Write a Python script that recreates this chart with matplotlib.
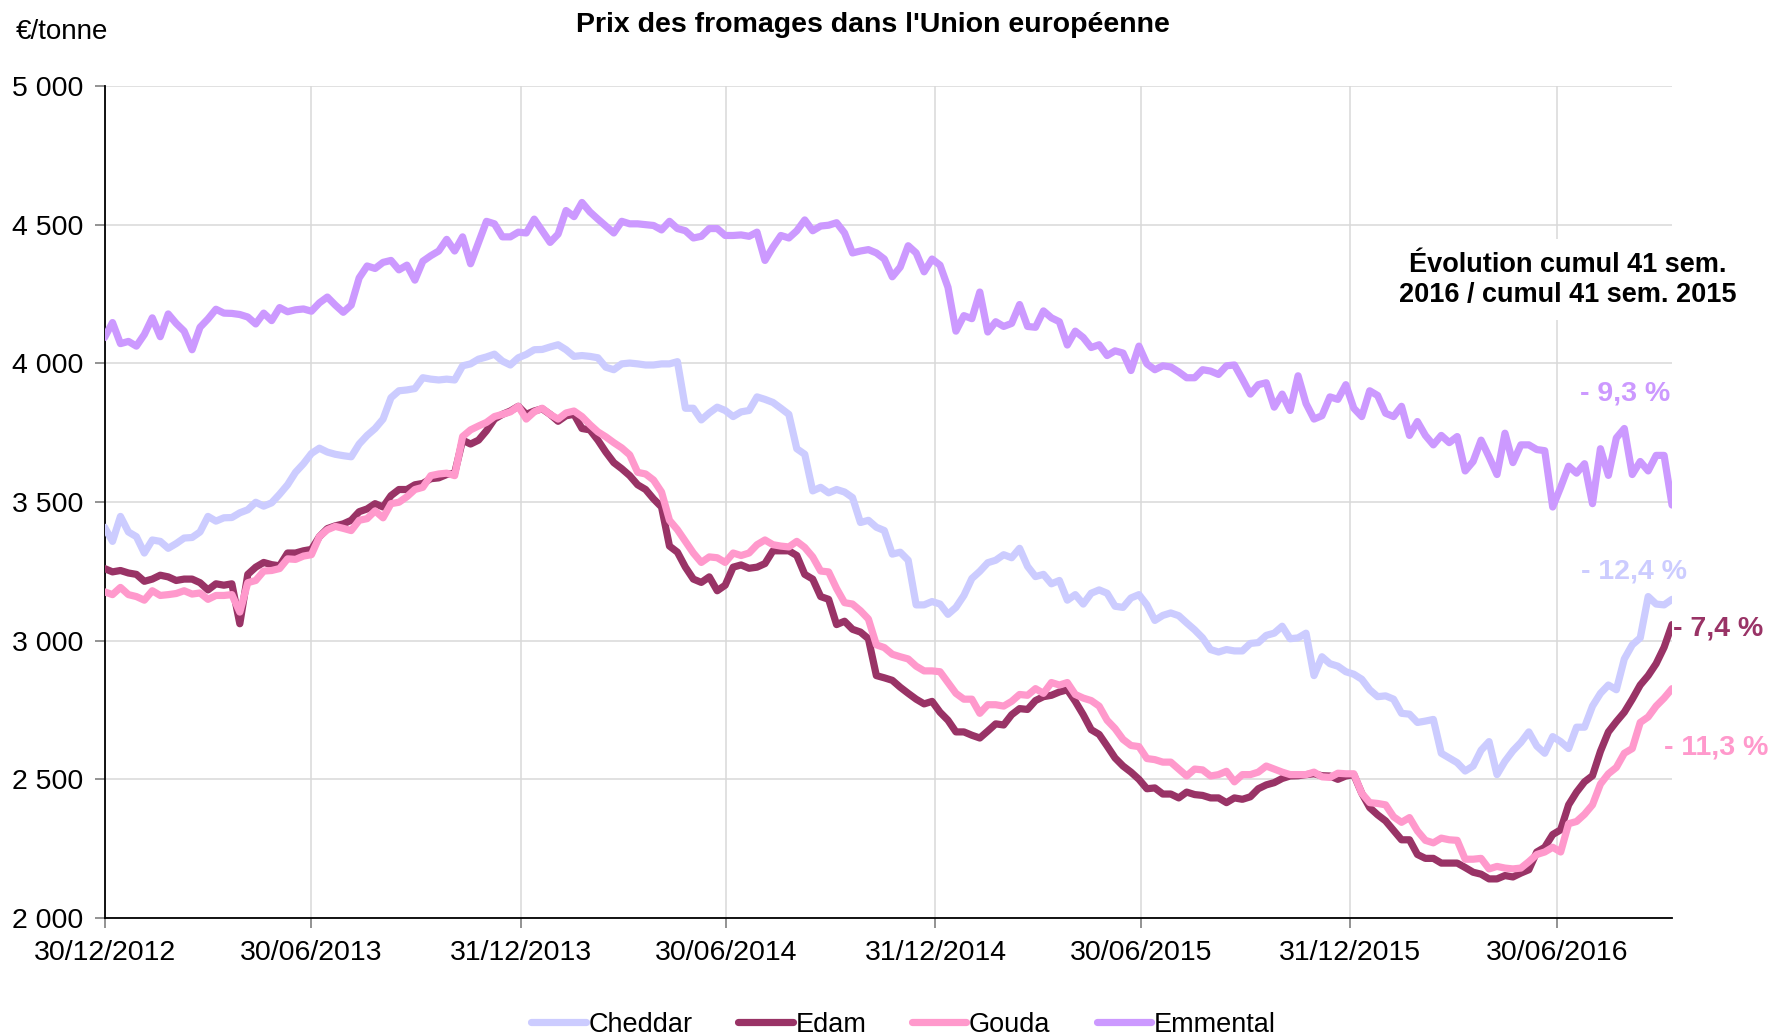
import matplotlib
matplotlib.use("Agg")
import matplotlib.pyplot as plt
import numpy as np
import pandas as pd

plt.rcParams["font.family"] = ["Liberation Sans", "DejaVu Sans"]

# weekly prices, EUR/tonne, week ending 30/12/2012 onwards (198 weeks)
weeks = pd.date_range("2012-12-30", periods=198, freq="7D")

cheddar = [
    3409, 3358, 3448, 3392, 3375, 3316, 3363, 3358, 3333, 3350, 3370, 3372, 3392, 3448, 3431, 3443, 3444,
    3461, 3472, 3499, 3485, 3497, 3528, 3562, 3607, 3638, 3675, 3694, 3680, 3672, 3667, 3663, 3709, 3740,
    3765, 3799, 3876, 3901, 3904, 3909, 3948, 3943, 3940, 3943, 3940, 3991, 3998, 4015, 4023, 4033, 4008,
    3994, 4020, 4032, 4049, 4050, 4059, 4067, 4049, 4025, 4028, 4025, 4020, 3986, 3977, 3998, 4001,
    3998, 3994, 3994, 3998, 3998, 4006, 3838, 3838, 3796, 3821, 3842, 3830, 3808, 3825, 3830, 3879, 3870,
    3859, 3838, 3816, 3692, 3672, 3540, 3553, 3533, 3545, 3536, 3516, 3426, 3434, 3409, 3397,
    3312, 3319, 3290, 3129, 3129, 3141, 3132, 3095, 3120, 3163, 3224, 3250, 3281, 3290, 3310, 3299, 3333,
    3268, 3231, 3239, 3205, 3217, 3146, 3166, 3132, 3171, 3183, 3171, 3124, 3120, 3154, 3166, 3129,
    3073, 3091, 3100, 3090, 3064, 3039, 3010, 2968, 2959, 2968, 2963, 2963, 2990, 2993, 3019, 3027, 3052,
    3007, 3010, 3027, 2874, 2942, 2917, 2908, 2888, 2879, 2861, 2823, 2798, 2801, 2789, 2738, 2735,
    2705, 2710, 2716, 2594, 2577, 2560, 2530, 2548, 2605, 2636, 2517, 2565, 2603, 2633, 2671, 2620, 2594,
    2654, 2636, 2611, 2688, 2688, 2764, 2810, 2840, 2823, 2934, 2985, 3010, 3159, 3132, 3129, 3149,
]

edam = [
    3260, 3248, 3253, 3244, 3239, 3214, 3222, 3236, 3230, 3217, 3222, 3222, 3209, 3183, 3205, 3200, 3205,
    3061, 3239, 3265, 3282, 3274, 3270, 3316, 3316, 3324, 3329, 3375, 3404, 3414, 3421, 3434, 3465, 3475,
    3494, 3482, 3523, 3545, 3545, 3562, 3567, 3584, 3587, 3599, 3604, 3723, 3709, 3723, 3757, 3799, 3816,
    3828, 3845, 3816, 3828, 3836, 3816, 3791, 3811, 3816, 3765, 3760, 3723, 3680, 3642, 3620, 3595,
    3562, 3545, 3511, 3482, 3341, 3319, 3265, 3222, 3210, 3230, 3180, 3200, 3265, 3273, 3261, 3265, 3278,
    3324, 3324, 3324, 3307, 3239, 3222, 3159, 3149, 3058, 3070, 3041, 3031, 3007, 2874, 2866,
    2857, 2832, 2810, 2789, 2772, 2781, 2742, 2713, 2671, 2671, 2659, 2649, 2674, 2700, 2696, 2733, 2755,
    2752, 2784, 2798, 2803, 2815, 2823, 2781, 2733, 2679, 2662, 2620, 2577, 2548, 2526, 2500, 2466,
    2469, 2447, 2447, 2433, 2454, 2445, 2442, 2433, 2433, 2416, 2433, 2428, 2437, 2466, 2480, 2488, 2503,
    2512, 2513, 2517, 2520, 2513, 2512, 2500, 2512, 2517, 2450, 2398, 2372, 2350, 2316, 2282, 2282,
    2229, 2215, 2215, 2198, 2198, 2198, 2182, 2165, 2158, 2141, 2141, 2153, 2148, 2162, 2174, 2238, 2255,
    2301, 2318, 2408, 2454, 2491, 2513, 2601, 2671, 2708, 2742, 2789, 2840, 2874, 2917, 2976, 3058,
]

gouda = [
    3176, 3166, 3192, 3166, 3159, 3146, 3180, 3163, 3166, 3170, 3180, 3168, 3172, 3149, 3163, 3163, 3166,
    3103, 3209, 3217, 3251, 3253, 3260, 3295, 3293, 3305, 3310, 3375, 3400, 3412, 3405, 3397, 3434, 3440,
    3468, 3443, 3494, 3499, 3519, 3545, 3553, 3595, 3601, 3604, 3595, 3736, 3760, 3774, 3787, 3808, 3816,
    3825, 3845, 3799, 3825, 3838, 3816, 3799, 3821, 3828, 3808, 3779, 3753, 3735, 3714, 3695, 3670,
    3607, 3601, 3579, 3536, 3434, 3400, 3358, 3316, 3282, 3302, 3299, 3282, 3316, 3307, 3316, 3346, 3363,
    3346, 3341, 3338, 3358, 3336, 3302, 3251, 3248, 3188, 3137, 3132, 3108, 3078, 2985, 2975,
    2951, 2942, 2934, 2908, 2891, 2891, 2888, 2849, 2810, 2789, 2789, 2738, 2769, 2769, 2764, 2781, 2806,
    2803, 2827, 2810, 2849, 2840, 2849, 2806, 2793, 2784, 2764, 2713, 2683, 2644, 2622, 2618, 2575,
    2571, 2562, 2562, 2537, 2512, 2537, 2534, 2512, 2517, 2529, 2491, 2517, 2517, 2526, 2548, 2537, 2526,
    2517, 2517, 2517, 2526, 2509, 2507, 2522, 2520, 2520, 2450, 2416, 2413, 2408, 2365, 2345, 2362,
    2314, 2280, 2271, 2288, 2282, 2280, 2212, 2212, 2215, 2177, 2186, 2180, 2177, 2180, 2203, 2229, 2238,
    2255, 2238, 2340, 2348, 2374, 2408, 2483, 2520, 2543, 2594, 2611, 2705, 2725, 2764, 2793, 2827,
]

emmental = [
    4093, 4147, 4071, 4079, 4062, 4104, 4164, 4096, 4178, 4144, 4116, 4049, 4130, 4160, 4195, 4181, 4180,
    4176, 4167, 4142, 4181, 4154, 4201, 4186, 4193, 4196, 4188, 4218, 4239, 4210, 4184, 4210, 4308, 4351,
    4342, 4364, 4371, 4337, 4354, 4300, 4368, 4388, 4405, 4447, 4405, 4456, 4359, 4436, 4512, 4503, 4456,
    4456, 4473, 4470, 4520, 4478, 4436, 4466, 4551, 4529, 4580, 4546, 4520, 4495, 4470, 4512, 4503,
    4503, 4500, 4497, 4481, 4512, 4486, 4478, 4452, 4458, 4486, 4486, 4461, 4461, 4463, 4458, 4473, 4371,
    4419, 4461, 4452, 4478, 4517, 4478, 4495, 4498, 4507, 4470, 4398, 4405, 4410, 4398, 4376,
    4312, 4347, 4424, 4398, 4330, 4376, 4354, 4274, 4116, 4172, 4161, 4257, 4113, 4150, 4133, 4144, 4212,
    4133, 4130, 4189, 4164, 4150, 4066, 4116, 4093, 4057, 4067, 4028, 4045, 4037, 3974, 4062, 3998,
    3977, 3991, 3987, 3969, 3948, 3948, 3977, 3972, 3960, 3991, 3994, 3943, 3889, 3923, 3930, 3842, 3889,
    3830, 3955, 3855, 3799, 3811, 3879, 3870, 3923, 3838, 3808, 3901, 3884, 3820, 3808, 3845, 3740,
    3790, 3740, 3706, 3740, 3714, 3736, 3612, 3646, 3723, 3663, 3599, 3748, 3642, 3706, 3706, 3689, 3685,
    3482, 3553, 3629, 3604, 3638, 3494, 3692, 3596, 3731, 3765, 3599, 3646, 3612, 3668, 3668, 3489,
]

series = ["Cheddar", "Edam", "Gouda", "Emmental"]
colors = {"Cheddar": "#CCCCFF", "Edam": "#993366", "Gouda": "#FF99CC", "Emmental": "#CC99FF"}
changes = {"Emmental": "- 9,3 %", "Cheddar": "- 12,4 %", "Edam": "- 7,4 %", "Gouda": "- 11,3 %"}
tick_dates = ["2012-12-30", "2013-06-30", "2013-12-31", "2014-06-30",
              "2014-12-31", "2015-06-30", "2015-12-31", "2016-06-30"]

fig = plt.figure(figsize=(17.75, 10.36), dpi=100)
ax = fig.add_axes([0.0589, 0.1139, 0.8831, 0.8031])

data = dict(zip(series, [cheddar, edam, gouda, emmental]))
for name in series:
    ax.plot(weeks, data[name], color=colors[name], lw=5.2, label=name,
            solid_joinstyle="round", solid_capstyle="round", zorder=3)

ax.set_xlim(weeks[0], weeks[-1])
ax.set_ylim(2000, 5000)
ax.set_yticks(np.arange(2000, 5001, 500))
ax.yaxis.set_major_formatter(lambda v, p: f"{v:,.0f}".replace(",", " "))
ticks = pd.to_datetime(tick_dates)
ax.set_xticks(ticks)
ax.set_xticklabels([d.strftime("%d/%m/%Y") for d in ticks])
ax.tick_params(labelsize=20.5, colors="#808080", labelcolor="black", length=7, width=1.2)
ax.tick_params(axis="x", pad=9)
ax.tick_params(axis="y", pad=8)

ax.grid(color="#D9D9D9", linewidth=1.1)
ax.set_axisbelow(True)
for s in ["top", "right"]:
    ax.spines[s].set_visible(False)
for s in ["left", "bottom"]:
    ax.spines[s].set_linewidth(1.3)
    ax.spines[s].set_color("black")

ax.text(0.9336, 4302, "Évolution cumul 41 sem.\n2016 / cumul 41 sem. 2015",
        transform=ax.get_yaxis_transform(), ha="center", va="center", ma="center",
        fontsize=19.5, fontweight="bold", zorder=5,
        bbox=dict(boxstyle="square,pad=0.45", fc="white", ec="none"))

label_pos = {"Emmental": (0.941, 3890), "Cheddar": (0.942, 3250),
             "Edam": (1.0007, 3043), "Gouda": (0.995, 2614)}
for name, (xf, yv) in label_pos.items():
    ax.text(xf, yv, changes[name], transform=ax.get_yaxis_transform(), ha="left", va="center",
            fontsize=20.5, fontweight="bold", color=colors[name], clip_on=False, zorder=5)

fig.text(0.4918, 0.976, "Prix des fromages dans l'Union européenne", ha="center", va="center",
         fontsize=20.5, fontweight="bold")
fig.text(0.009, 0.9695, "€/tonne", ha="left", va="center", fontsize=20)

fig.legend(loc="center", bbox_to_anchor=(0.509, 0.011), ncol=4, frameon=False,
           fontsize=19.5, handlelength=2.0, handletextpad=0.1, columnspacing=1.7)

fig.savefig("out.png", dpi=100)
